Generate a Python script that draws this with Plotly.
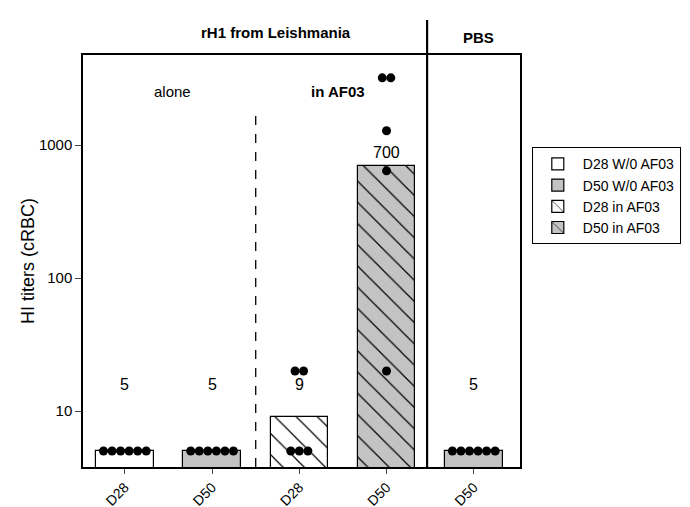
import math
import plotly.graph_objects as go

# ---- data ----
categories = ["D28", "D50", "D28", "D50", "D50"]
group_names = ["D28 W/0 AF03", "D50 W/0 AF03", "D28 in AF03", "D50 in AF03", "PBS D50"]
gmt_values = [5, 5, 9, 700, 5]
value_labels = ["5", "5", "9", "700", "5"]
individual_titers = [
    [5, 5, 5, 5, 5, 5],
    [5, 5, 5, 5, 5, 5],
    [20, 20, 5, 5, 5],
    [3200, 3200, 1280, 640, 20],
    [5, 5, 5, 5, 5, 5],
]
detection_limit = 5
yticks = [10, 100, 1000]

# ---- styles ----
FONT = "Liberation Sans Narrow, Arial Narrow, Liberation Sans, Arial, sans-serif"
GRAY = "#c3c3c3"
fills = ["white", GRAY, "white", GRAY, GRAY]
patterns = ["", "", "\\", "\\", ""]
legend_show = [True, True, True, True, False]

fig = go.Figure()
for i in range(5):
    fig.add_trace(go.Bar(
        x=[i], y=[gmt_values[i]], width=0.66, name=group_names[i],
        marker=dict(color=fills[i], line=dict(color="black", width=1.2),
                    pattern=dict(shape=patterns[i], fgcolor="black", bgcolor=fills[i],
                                 fgopacity=1, size=15, solidity=0.08, fillmode="overlay")),
        showlegend=legend_show[i],
    ))

# dots: spread horizontally within equal-value groups
xs, ys = [], []
for i, vals in enumerate(individual_titers):
    uniq = []
    for v in vals:
        if v not in uniq:
            uniq.append(v)
    for u in uniq:
        n = vals.count(u)
        for k in range(n):
            xs.append(i + (k - (n - 1) / 2) * 0.098)
            ys.append(u)
fig.add_trace(go.Scatter(x=xs, y=ys, mode="markers", showlegend=False,
                         marker=dict(color="black", size=9)))

# detection limit line
fig.add_shape(type="line", xref="paper", x0=0, x1=1, yref="y",
              y0=math.log10(detection_limit), y1=math.log10(detection_limit),
              line=dict(color="#c84a5e", width=1.3, dash="dash"))
# separators
fig.add_shape(type="line", xref="x", x0=1.5, x1=1.5, yref="paper", y0=0, y1=0.874,
              line=dict(color="black", width=1.3, dash="dash"))
fig.add_shape(type="line", xref="x", x0=3.465, x1=3.465, yref="paper", y0=0, y1=1.085,
              line=dict(color="black", width=2.2))

# value labels (positions in log10 axis units)
label_y = [15.7, 15.7, 15.7, 885, 15.7]
for i in range(5):
    fig.add_annotation(x=i, y=math.log10(label_y[i]), yref="y", text=value_labels[i],
                       showarrow=False, yanchor="middle",
                       font=dict(size=16, color="black", family=FONT))

# group headings
heads = [(1.73, 1.055, "<b>rH1 from Leishmania</b>"), (4.05, 1.043, "<b>PBS</b>"),
         (0.55, 0.912, "alone"), (2.44, 0.912, "<b>in AF03</b>")]
for hx, hy, ht in heads:
    fig.add_annotation(x=hx, xref="x", y=hy, yref="paper", text=ht, showarrow=False,
                       xanchor="center", yanchor="middle",
                       font=dict(size=15, color="black", family=FONT))

fig.update_layout(
    width=682, height=499,
    margin=dict(l=75, r=170, t=47, b=40, autoexpand=False),
    paper_bgcolor="white", plot_bgcolor="white",
    font=dict(family=FONT, color="black", size=14),
    bargap=0,
    legend=dict(x=1.027, y=0.776, xanchor="left", yanchor="top",
                bordercolor="black", borderwidth=1, bgcolor="white",
                font=dict(size=14, family=FONT), itemwidth=40,
                tracegroupgap=0),
    xaxis=dict(range=[-0.48, 4.53], tickmode="array", tickvals=list(range(5)),
               ticktext=categories, tickangle=-45, ticks="outside", ticklen=5,
               showline=True, mirror=True, linecolor="black", linewidth=1.5,
               showgrid=False, zeroline=False, tickfont=dict(size=14), automargin=False),
    yaxis=dict(type="log", range=[0.579, 3.677], tickmode="array", tickvals=yticks,
               ticktext=[str(t) for t in yticks], ticks="outside", ticklen=6,
               showline=True, mirror=True, linecolor="black", linewidth=1.5,
               showgrid=False, zeroline=False, tickfont=dict(size=15), automargin=False,
               title=dict(text="HI titers (cRBC)", font=dict(size=18, family="Liberation Sans, Arial, sans-serif"),
                          standoff=0)),
)

fig.write_html("out.html")
